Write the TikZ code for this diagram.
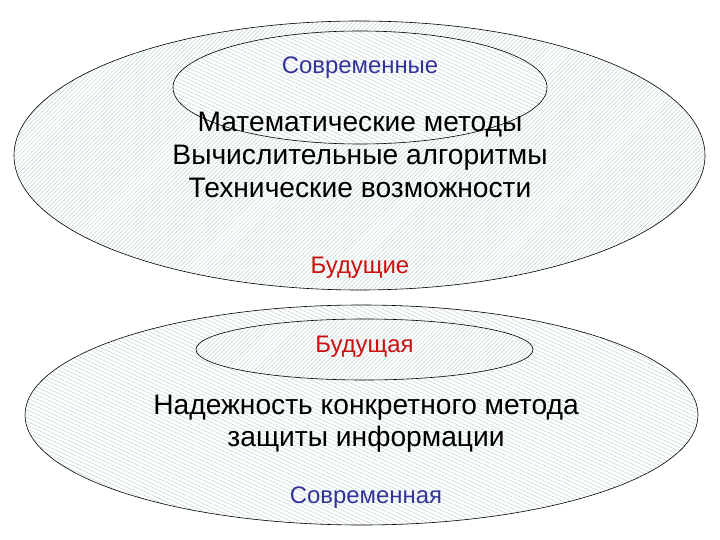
\documentclass[tikz,border=0pt]{standalone}
\usepackage{fontspec}
\setmainfont{Liberation Sans}
\usetikzlibrary{shapes.geometric,patterns.meta}
\definecolor{hatchc}{HTML}{BCD2D2}
\definecolor{navy}{HTML}{333399}
\definecolor{redt}{HTML}{CC1010}
\tikzset{
  oval/.style={ellipse, draw=black, line width=0.6bp, inner sep=0pt,
    preaction={fill=white}},
  hatchA/.style={pattern={Lines[angle=45,distance=3bp,line width=0.5bp]}, pattern color=hatchc},
  hatchB/.style={pattern={Lines[angle=-25,distance=3.5bp,line width=0.5bp]}, pattern color=hatchc},
  big/.style={font=\fontsize{28.3}{33}\selectfont, align=center, text=black},
  small/.style={font=\fontsize{24}{28}\selectfont},
}
\begin{document}
\begin{tikzpicture}[x=1bp,y=-1bp]
\useasboundingbox (0,0) rectangle (720,540);
% top group
\node[oval, hatchA, minimum width=691bp, minimum height=269bp] (topouter) at (359.5,155.5) {};
\node[oval, hatchB, minimum width=374bp, minimum height=113bp] (topinner) at (360,87.5) {};
\node[small, text=navy] (tsub) at (360,68) {Современные};
\node[big] (tmain) at (360,155) {Математические методы\\Вычислительные алгоритмы\\Технические возможности};
\node[small, text=redt] (tfut) at (360,268) {Будущие};
% bottom group
\node[oval, hatchB, minimum width=673bp, minimum height=220bp] (botouter) at (361.5,415) {};
\node[oval, hatchA, minimum width=337bp, minimum height=61bp] (botinner) at (364.5,349.5) {};
\node[small, text=redt] (bfut) at (364.5,347) {Будущая};
\node[big, font=\fontsize{28.3}{32}\selectfont] (bmain) at (366,424) {Надежность конкретного метода\\защиты информации};
\node[small, text=navy] (bsub) at (366,498) {Современная};
\end{tikzpicture}
\end{document}
